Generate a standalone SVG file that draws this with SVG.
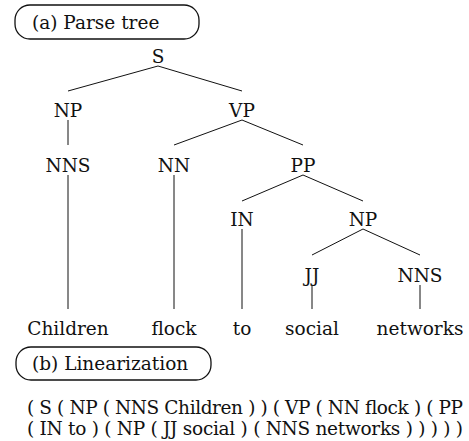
<svg xmlns="http://www.w3.org/2000/svg" width="469" height="441" viewBox="0 0 469 441">
<style>
text{font-family:"DejaVu Serif","Liberation Serif",serif;font-size:18.5px;fill:#111}
.n{text-anchor:middle}
.e line{stroke:#111;stroke-width:1}
.box{fill:none;stroke:#111;stroke-width:1.3}
</style>
<rect width="469" height="441" fill="#fff"/>
<g id="label-a"><rect class="box" x="15" y="5" width="184" height="34" rx="15"/><text x="32" y="29">(a) Parse tree</text></g>
<g class="e" id="edges">
<line x1="158" y1="66" x2="68" y2="91"/>
<line x1="158" y1="66" x2="242" y2="91"/>
<line x1="68" y1="120" x2="68" y2="145"/>
<line x1="242" y1="120" x2="174" y2="145"/>
<line x1="242" y1="120" x2="303" y2="145"/>
<line x1="68" y1="175" x2="68" y2="309"/>
<line x1="174" y1="175" x2="174" y2="309"/>
<line x1="303" y1="175" x2="242" y2="201"/>
<line x1="303" y1="175" x2="363" y2="201"/>
<line x1="242" y1="229" x2="242" y2="309"/>
<line x1="363" y1="229" x2="312" y2="255"/>
<line x1="363" y1="229" x2="420" y2="255"/>
<line x1="312" y1="285" x2="312" y2="309"/>
<line x1="420" y1="285" x2="420" y2="309"/>
</g>
<g id="S"><text class="n" x="158" y="63">S</text></g>
<g id="NP1"><text class="n" x="68" y="117">NP</text></g>
<g id="VP"><text class="n" x="242" y="117">VP</text></g>
<g id="NNS1"><text class="n" x="68" y="172">NNS</text></g>
<g id="NN"><text class="n" x="174" y="172">NN</text></g>
<g id="PP"><text class="n" x="303" y="172">PP</text></g>
<g id="IN"><text class="n" x="242" y="226">IN</text></g>
<g id="NP2"><text class="n" x="363" y="226">NP</text></g>
<g id="JJ"><text class="n" x="312" y="282">JJ</text></g>
<g id="NNS2"><text class="n" x="420" y="282">NNS</text></g>
<g id="w-children"><text class="n" x="68" y="335">Children</text></g>
<g id="w-flock"><text class="n" x="174" y="335">flock</text></g>
<g id="w-to"><text class="n" x="242" y="335">to</text></g>
<g id="w-social"><text class="n" x="312" y="335">social</text></g>
<g id="w-networks"><text class="n" x="420" y="335">networks</text></g>
<g id="label-b"><rect class="box" x="16" y="347" width="195" height="33" rx="15"/><text x="32" y="370">(b) Linearization</text></g>
<g id="linearization">
<text x="27" y="414" textLength="436" lengthAdjust="spacing">( S ( NP ( NNS Children ) ) ( VP ( NN flock ) ( PP</text>
<text x="27" y="435" textLength="436" lengthAdjust="spacing">( IN to ) ( NP ( JJ social ) ( NNS networks ) ) ) ) )</text>
</g>
</svg>
